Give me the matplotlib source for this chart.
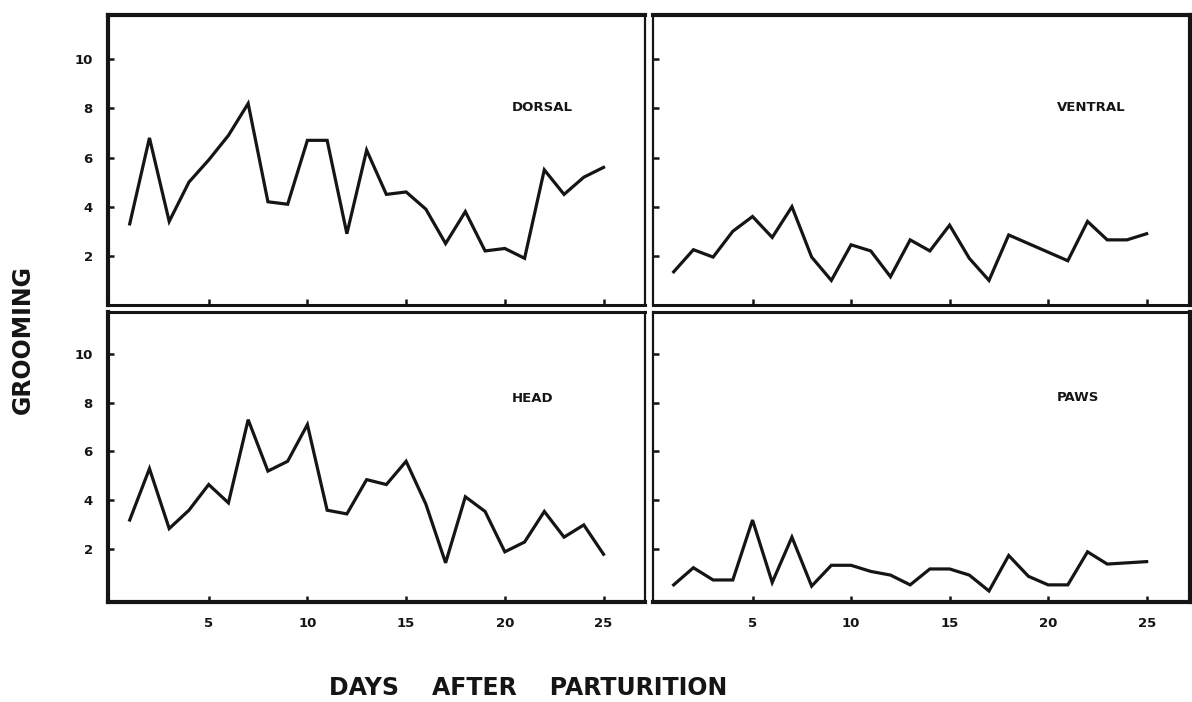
import numpy as np
import matplotlib.pyplot as plt

# grooming scores per day after parturition
days = list(range(1, 26))
dorsal = [3.3, 6.8, 3.4, 5.0, 5.9, 6.9, 8.2, 4.2, 4.1, 6.7, 6.7, 2.9, 6.3, 4.5, 4.6, 3.9, 2.5, 3.8, 2.2, 2.3, 1.9, 5.5, 4.5, 5.2, 5.6]
ventral = [1.35, 2.25, 1.95, 3.0, 3.6, 2.75, 4.0, 1.95, 1.0, 2.45, 2.2, 1.15, 2.65, 2.2, 3.25, 1.9, 1.0, 2.85, 2.5, 2.15, 1.8, 3.4, 2.65, 2.65, 2.9]
head = [3.2, 5.3, 2.85, 3.6, 4.65, 3.9, 7.3, 5.2, 5.6, 7.1, 3.6, 3.45, 4.85, 4.65, 5.6, 3.85, 1.45, 4.15, 3.55, 1.9, 2.3, 3.55, 2.5, 3.0, 1.8]
paws = [0.55, 1.25, 0.75, 0.75, 3.2, 0.65, 2.5, 0.5, 1.35, 1.35, 1.1, 0.95, 0.55, 1.2, 1.2, 0.95, 0.3, 1.75, 0.9, 0.55, 0.55, 1.9, 1.4, 1.45, 1.5]

panel_names = ["DORSAL", "VENTRAL", "HEAD", "PAWS"]
label_pos = [(21.9, 8.05), (22.2, 8.05), (21.4, 8.15), (21.5, 8.2)]
xticks = [5, 10, 15, 20, 25]
yticks = [2, 4, 6, 8, 10]

W, H = 1192, 702
fig = plt.figure(figsize=(W / 100, H / 100), dpi=100)
plt.rcParams['font.family'] = ['DejaVu Sans']


def box(l, r, t, b):
    return [l / W, (H - b) / H, (r - l) / W, (b - t) / H]


axes = [
    fig.add_axes(box(108, 645, 15, 305)),
    fig.add_axes(box(653, 1190, 15, 305)),
    fig.add_axes(box(108, 645, 312, 602)),
    fig.add_axes(box(653, 1190, 312, 602)),
]
series = [dorsal, ventral, head, paws]
ink = "#151515"

for i, (ax, vals) in enumerate(zip(axes, series)):
    left = i % 2 == 0
    bottom = i >= 2
    ax.plot(days, vals, color=ink, lw=2.3, solid_joinstyle="miter")
    ax.set_xlim(-0.1, 27.1) if left else ax.set_xlim(-0.05, 27.2)
    ax.set_ylim(0.0, 11.8) if not bottom else ax.set_ylim(-0.15, 11.7)
    ax.set_xticks(xticks)
    ax.set_yticks(yticks)
    ax.tick_params(direction="in", length=4, width=1.8, color=ink,
                   labelsize=9.5, pad=11)
    if not left:
        ax.tick_params(axis="y", labelleft=False)
    if not bottom:
        ax.tick_params(axis="x", labelbottom=False)
    for lab in ax.get_xticklabels() + ax.get_yticklabels():
        lab.set_fontweight("bold")
        lab.set_color(ink)
    # outer edges heavy, inner edges lighter (forms the double dividers)
    ax.spines["left"].set_linewidth(3.0 if left else 1.6)
    ax.spines["right"].set_linewidth(1.6 if left else 3.0)
    ax.spines["top"].set_linewidth(3.0 if not bottom else 2.2)
    ax.spines["bottom"].set_linewidth(2.2 if not bottom else 3.0)
    for s in ax.spines.values():
        s.set_color(ink)
    tx, ty = label_pos[i]
    ax.text(tx, ty, panel_names[i], ha="center", va="center",
            fontsize=9.5, fontweight="bold", color=ink)

fig.text(23 / W, (H - 340) / H, "GROOMING", rotation=90, ha="center",
         va="center", fontsize=17, fontweight="bold", color=ink)
fig.text(528 / W, (H - 688) / H, "DAYS    AFTER    PARTURITION", ha="center",
         va="center", fontsize=17, fontweight="bold", color=ink)

fig.savefig("out.png", dpi=100, facecolor="white")
